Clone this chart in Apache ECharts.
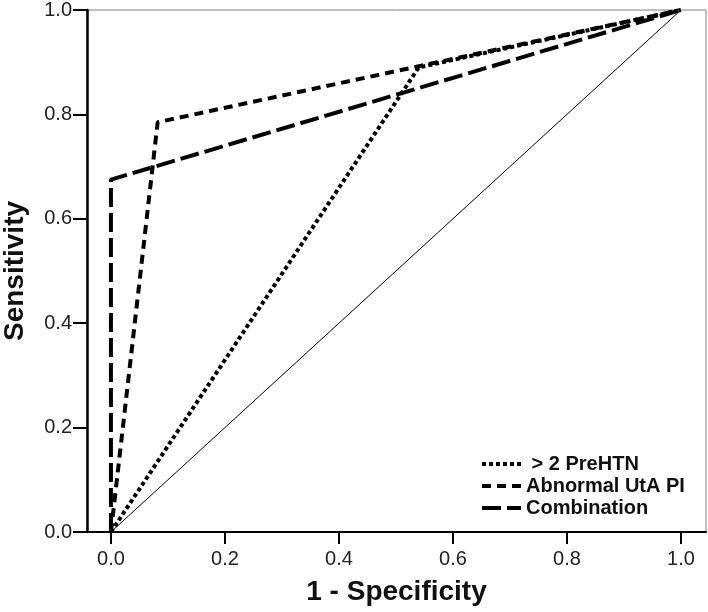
<!DOCTYPE html>
<html>
<head>
<meta charset="utf-8">
<script src="https://cdn.jsdelivr.net/npm/echarts@6/dist/echarts.min.js"></script>
<style>
html,body{margin:0;padding:0;background:#fff;}
#chart{width:708px;height:612px;}
</style>
</head>
<body>
<div id="chart"></div>
<script>
// Data (1 - Specificity, Sensitivity)
const seriesNames = [' > 2 PreHTN', 'Abnormal UtA PI', 'Combination'];
const preHTN = [[0, 0], [0.54, 0.89], [1, 1]];
const utaPI = [[0, 0], [0.082, 0.785], [1, 1]];
const combination = [[0, 0], [0, 0.675], [1, 1]];
const reference = [[0, 0], [1, 1]];
const tickValues = [0, 0.2, 0.4, 0.6, 0.8, 1.0];

const chart = echarts.init(document.getElementById('chart'));
const font = 'Liberation Sans, Arial, sans-serif';
chart.setOption({
  animation: false,
  backgroundColor: '#fff',
  grid: { left: 87, right: 2, top: 10, bottom: 80, containLabel: false, outerBoundsMode: 'none',
    show: true, borderColor: '#808080', borderWidth: 1, backgroundColor: 'transparent' },
  xAxis: {
    type: 'value', min: -0.042, max: 1.044,
    name: '1 - Specificity', nameLocation: 'middle', nameGap: 46,
    nameTextStyle: { fontFamily: font, fontWeight: 'bold', fontSize: 28, color: '#111' },
    axisLine: { show: true, onZero: false, lineStyle: { color: '#000', width: 2 } },
    axisTick: { show: true, length: 12, lineStyle: { color: '#000', width: 2 }, customValues: tickValues },
    axisLabel: { margin: 17, fontFamily: font, fontSize: 20, color: '#222', customValues: tickValues, formatter: v => v.toFixed(1) },
    splitLine: { show: false }
  },
  yAxis: {
    type: 'value', min: 0, max: 1, interval: 0.2,
    name: 'Sensitivity', nameLocation: 'middle', nameGap: 58, nameRotate: 90,
    nameTextStyle: { fontFamily: font, fontWeight: 'bold', fontSize: 28, color: '#111' },
    axisLine: { show: true, onZero: false, lineStyle: { color: '#000', width: 2.5 } },
    axisTick: { show: true, length: 14, lineStyle: { color: '#000', width: 2 } },
    axisLabel: { margin: 15, fontFamily: font, fontSize: 20, color: '#222', formatter: v => v.toFixed(1) },
    splitLine: { show: false }
  },
  legend: {
    left: 480, top: 454, orient: 'vertical', itemWidth: 39, itemHeight: 14, itemGap: 2, padding: 0,
    data: seriesNames,
    itemStyle: { opacity: 0, borderWidth: 0 },
    lineStyle: { width: 4 },
    textStyle: { fontFamily: font, fontWeight: 'bold', fontSize: 20, color: '#111' },
    backgroundColor: 'transparent'
  },
  series: [
    { name: seriesNames[0], type: 'line', data: preHTN, symbol: 'none', z: 3,
      lineStyle: { color: '#000', width: 4, type: [4, 3] }, itemStyle: { color: '#000' } },
    { name: seriesNames[1], type: 'line', data: utaPI, symbol: 'none', z: 3,
      lineStyle: { color: '#000', width: 4, type: [9, 6] }, itemStyle: { color: '#000' } },
    { name: seriesNames[2], type: 'line', data: combination, symbol: 'none', z: 3,
      lineStyle: { color: '#000', width: 4, type: [19, 6] }, itemStyle: { color: '#000' } },
    { name: 'Reference', type: 'line', data: reference, symbol: 'none', z: 2,
      lineStyle: { color: '#000', width: 1 }, itemStyle: { color: '#000' } }
  ]
});
</script>
</body>
</html>
